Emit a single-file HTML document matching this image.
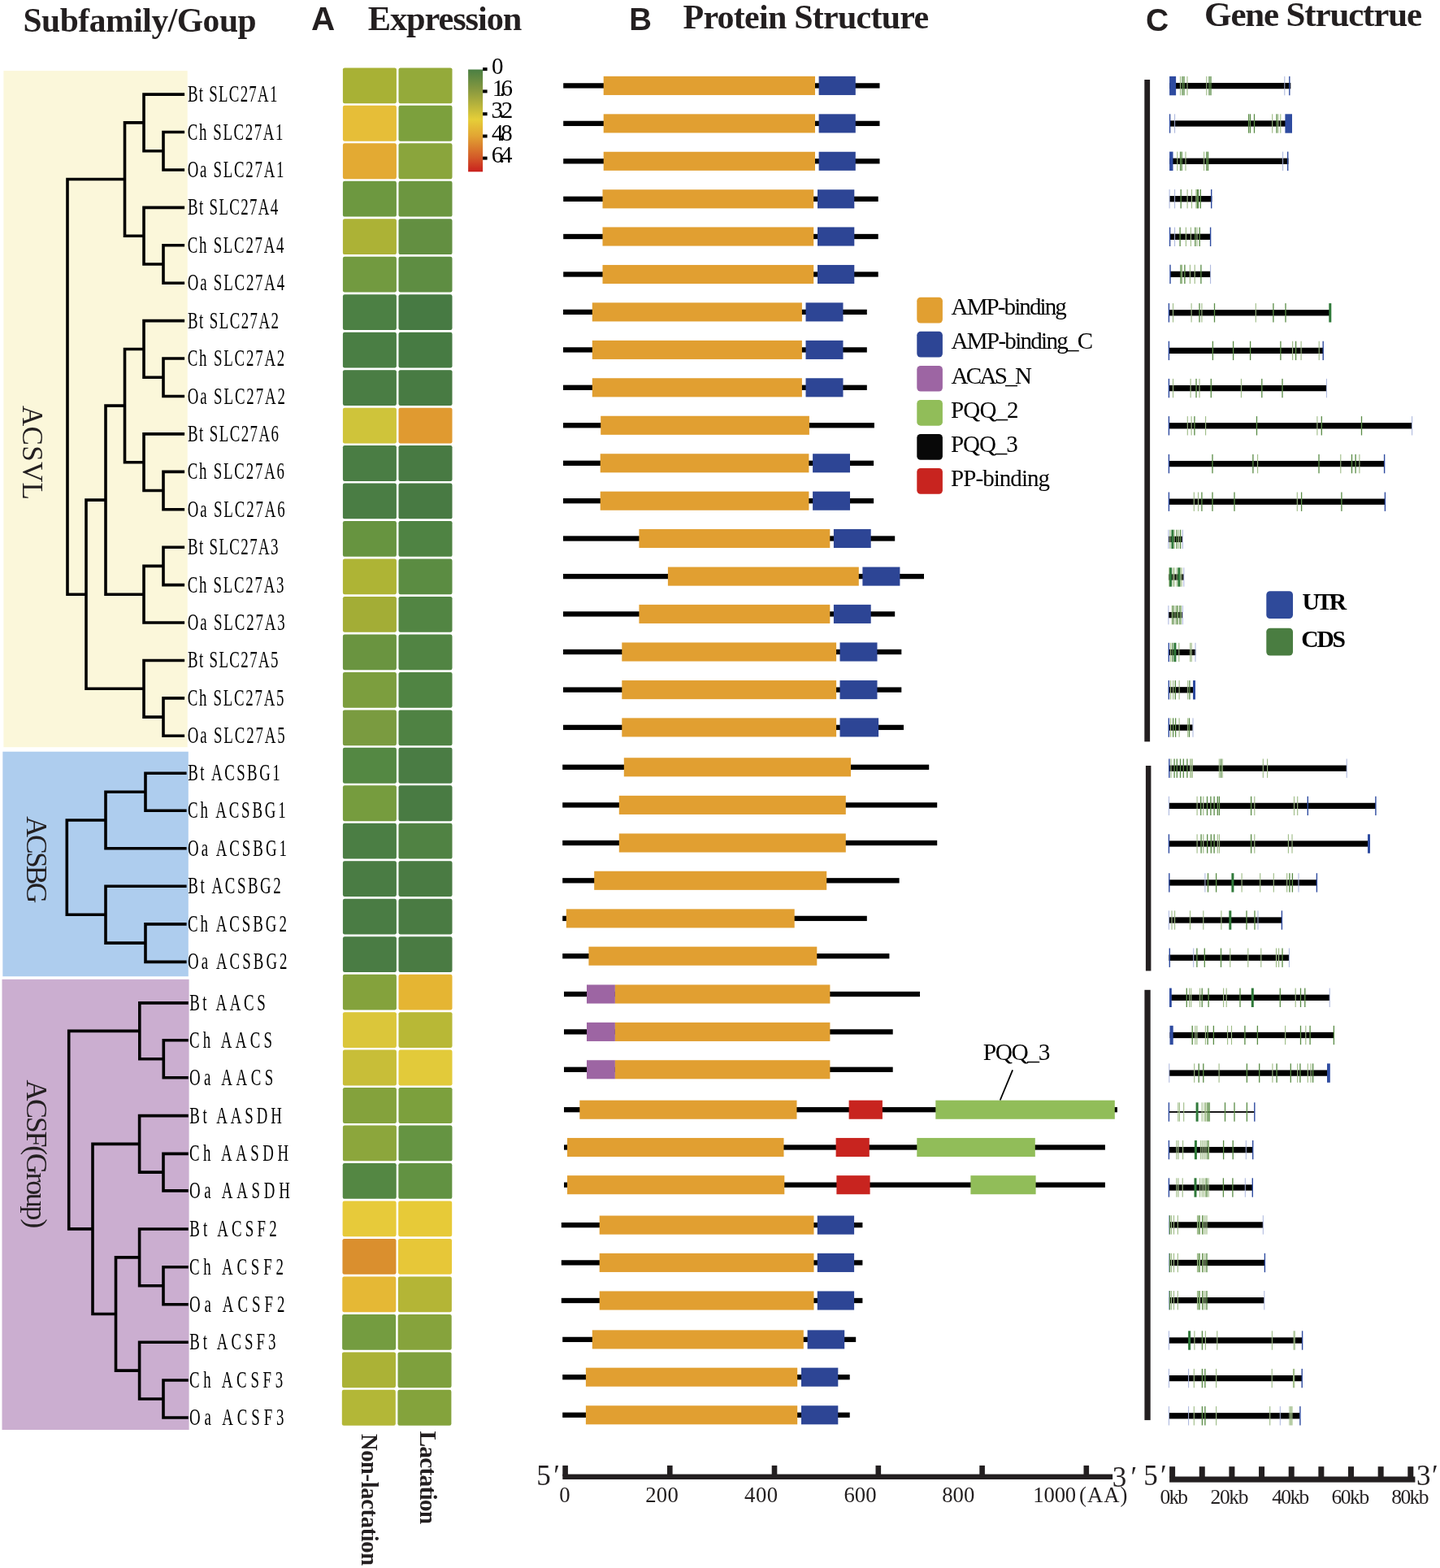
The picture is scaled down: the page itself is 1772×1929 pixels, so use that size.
<!DOCTYPE html>
<html><head><meta charset="utf-8"><title>Figure</title>
<style>html,body{margin:0;padding:0;background:#fff;overflow:hidden;} svg{display:block;}</style>
</head><body>
<svg width="1772" height="1929" viewBox="0 0 1772 1929">
<rect x="0" y="0" width="1772" height="1929" fill="#ffffff"/>
<text x="28.39" y="38.50" font-family='"Liberation Serif", "Times New Roman", serif' font-size="41.5" font-weight="bold" fill="#231F20" textLength="287.29" lengthAdjust="spacing">Subfamily/Goup</text>
<text x="382.89" y="37.30" font-family='"Liberation Sans", Arial, sans-serif' font-size="40.4" font-weight="bold" fill="#231F20" textLength="29.07" lengthAdjust="spacing">A</text>
<text x="452.78" y="36.80" font-family='"Liberation Serif", "Times New Roman", serif' font-size="42.4" font-weight="bold" fill="#231F20" textLength="189.57" lengthAdjust="spacing">Expression</text>
<text x="774.33" y="36.60" font-family='"Liberation Sans", Arial, sans-serif' font-size="38.4" font-weight="bold" fill="#231F20" textLength="27.61" lengthAdjust="spacing">B</text>
<text x="840.58" y="35.40" font-family='"Liberation Serif", "Times New Roman", serif' font-size="42.0" font-weight="bold" fill="#231F20" textLength="302.50" lengthAdjust="spacing">Protein Structure</text>
<text x="1410.00" y="38.40" font-family='"Liberation Sans", Arial, sans-serif' font-size="39.0" font-weight="bold" fill="#231F20" textLength="27.37" lengthAdjust="spacing">C</text>
<text x="1482.10" y="31.90" font-family='"Liberation Serif", "Times New Roman", serif' font-size="43.0" font-weight="bold" fill="#231F20" textLength="267.91" lengthAdjust="spacing">Gene Structrue</text>
<rect x="4.40" y="87.10" width="226.30" height="832.10" fill="#FBF7DA"/>
<rect x="3.30" y="924.70" width="228.50" height="276.50" fill="#AECDEE"/>
<rect x="2.50" y="1204.80" width="230.10" height="554.20" fill="#CBAED0"/>
<text transform="translate(27.50,499.06) rotate(90)" font-family='"Liberation Serif", "Times New Roman", serif' font-size="35.0" fill="#231F20" textLength="115.74" lengthAdjust="spacing">ACSVL</text>
<text transform="translate(33.10,1004.15) rotate(90)" font-family='"Liberation Serif", "Times New Roman", serif' font-size="35.5" fill="#231F20" textLength="107.26" lengthAdjust="spacing">ACSBG</text>
<text transform="translate(33.40,1328.45) rotate(90)" font-family='"Liberation Serif", "Times New Roman", serif' font-size="36.0" fill="#231F20" textLength="182.73" lengthAdjust="spacing">ACSF(Group)</text>
<path d="M201.00 162.52L225.30 162.52 M201.00 208.95L225.30 208.95 M201.00 162.52L201.00 208.95 M177.00 116.10L225.30 116.10 M177.00 185.74L201.00 185.74 M177.00 116.10L177.00 185.74 M201.00 301.80L225.30 301.80 M201.00 348.23L225.30 348.23 M201.00 301.80L201.00 348.23 M177.00 255.37L225.30 255.37 M177.00 325.01L201.00 325.01 M177.00 255.37L177.00 325.01 M153.50 150.92L177.00 150.92 M153.50 290.19L177.00 290.19 M153.50 150.92L153.50 290.19 M201.00 441.07L225.30 441.07 M201.00 487.50L225.30 487.50 M201.00 441.07L201.00 487.50 M177.00 394.65L225.30 394.65 M177.00 464.29L201.00 464.29 M177.00 394.65L177.00 464.29 M201.00 580.35L225.30 580.35 M201.00 626.77L225.30 626.77 M201.00 580.35L201.00 626.77 M177.00 533.92L225.30 533.92 M177.00 603.56L201.00 603.56 M177.00 533.92L177.00 603.56 M153.50 429.47L177.00 429.47 M153.50 568.74L177.00 568.74 M153.50 429.47L153.50 568.74 M201.00 673.20L225.30 673.20 M201.00 719.62L225.30 719.62 M201.00 673.20L201.00 719.62 M177.00 696.41L201.00 696.41 M177.00 766.05L225.30 766.05 M177.00 696.41L177.00 766.05 M130.00 499.11L153.50 499.11 M130.00 731.23L177.00 731.23 M130.00 499.11L130.00 731.23 M201.00 858.90L225.30 858.90 M201.00 905.32L225.30 905.32 M201.00 858.90L201.00 905.32 M177.00 812.48L225.30 812.48 M177.00 882.11L201.00 882.11 M177.00 812.48L177.00 882.11 M106.00 615.17L130.00 615.17 M106.00 847.29L177.00 847.29 M106.00 615.17L106.00 847.29 M83.00 220.56L153.50 220.56 M83.00 731.23L106.00 731.23 M83.00 220.56L83.00 731.23 M179.00 951.30L227.80 951.30 M179.00 997.30L227.80 997.30 M179.00 951.30L179.00 997.30 M130.00 974.30L179.00 974.30 M130.00 1043.80L227.80 1043.80 M130.00 974.30L130.00 1043.80 M179.00 1136.90L227.80 1136.90 M179.00 1183.40L227.80 1183.40 M179.00 1136.90L179.00 1183.40 M130.00 1090.30L227.80 1090.30 M130.00 1160.15L179.00 1160.15 M130.00 1090.30L130.00 1160.15 M82.30 1009.05L130.00 1009.05 M82.30 1125.22L130.00 1125.22 M82.30 1009.05L82.30 1125.22 M201.30 1279.70L230.00 1279.70 M201.30 1325.80L230.00 1325.80 M201.30 1279.70L201.30 1325.80 M171.80 1233.90L230.00 1233.90 M171.80 1302.75L201.30 1302.75 M171.80 1233.90L171.80 1302.75 M201.00 1419.40L230.00 1419.40 M201.00 1464.90L230.00 1464.90 M201.00 1419.40L201.00 1464.90 M171.60 1372.60L230.00 1372.60 M171.60 1442.15L201.00 1442.15 M171.60 1372.60L171.60 1442.15 M201.00 1558.70L230.00 1558.70 M201.00 1604.70L230.00 1604.70 M201.00 1558.70L201.00 1604.70 M171.60 1512.00L230.00 1512.00 M171.60 1581.70L201.00 1581.70 M171.60 1512.00L171.60 1581.70 M201.00 1698.00L230.00 1698.00 M201.00 1744.00L230.00 1744.00 M201.00 1698.00L201.00 1744.00 M171.60 1651.20L230.00 1651.20 M171.60 1721.00L201.00 1721.00 M171.60 1651.20L171.60 1721.00 M142.50 1546.85L171.60 1546.85 M142.50 1686.10L171.60 1686.10 M142.50 1546.85L142.50 1686.10 M114.00 1407.38L171.60 1407.38 M114.00 1616.47L142.50 1616.47 M114.00 1407.38L114.00 1616.47 M84.70 1268.33L171.80 1268.33 M84.70 1511.92L114.00 1511.92 M84.70 1268.33L84.70 1511.92" stroke="#000" stroke-width="3.6" stroke-linecap="square" fill="none"/>
<text transform="translate(230.96,125.10) scale(0.65,1)" font-family='"Liberation Serif", "Times New Roman", serif' font-size="29.0" fill="#000" textLength="169.81" lengthAdjust="spacing">Bt SLC27A1</text>
<text transform="translate(230.73,171.52) scale(0.65,1)" font-family='"Liberation Serif", "Times New Roman", serif' font-size="29.0" fill="#000" textLength="181.24" lengthAdjust="spacing">Ch SLC27A1</text>
<text transform="translate(230.73,217.95) scale(0.65,1)" font-family='"Liberation Serif", "Times New Roman", serif' font-size="29.0" fill="#000" textLength="182.62" lengthAdjust="spacing">Oa SLC27A1</text>
<text transform="translate(230.96,264.38) scale(0.65,1)" font-family='"Liberation Serif", "Times New Roman", serif' font-size="29.0" fill="#000" textLength="171.13" lengthAdjust="spacing">Bt SLC27A4</text>
<text transform="translate(230.73,310.80) scale(0.65,1)" font-family='"Liberation Serif", "Times New Roman", serif' font-size="29.0" fill="#000" textLength="182.72" lengthAdjust="spacing">Ch SLC27A4</text>
<text transform="translate(230.73,357.23) scale(0.65,1)" font-family='"Liberation Serif", "Times New Roman", serif' font-size="29.0" fill="#000" textLength="183.80" lengthAdjust="spacing">Oa SLC27A4</text>
<text transform="translate(230.96,403.65) scale(0.65,1)" font-family='"Liberation Serif", "Times New Roman", serif' font-size="29.0" fill="#000" textLength="172.28" lengthAdjust="spacing">Bt SLC27A2</text>
<text transform="translate(230.73,450.07) scale(0.65,1)" font-family='"Liberation Serif", "Times New Roman", serif' font-size="29.0" fill="#000" textLength="183.87" lengthAdjust="spacing">Ch SLC27A2</text>
<text transform="translate(230.73,496.50) scale(0.65,1)" font-family='"Liberation Serif", "Times New Roman", serif' font-size="29.0" fill="#000" textLength="184.94" lengthAdjust="spacing">Oa SLC27A2</text>
<text transform="translate(230.96,542.92) scale(0.65,1)" font-family='"Liberation Serif", "Times New Roman", serif' font-size="29.0" fill="#000" textLength="172.16" lengthAdjust="spacing">Bt SLC27A6</text>
<text transform="translate(230.73,589.35) scale(0.65,1)" font-family='"Liberation Serif", "Times New Roman", serif' font-size="29.0" fill="#000" textLength="183.44" lengthAdjust="spacing">Ch SLC27A6</text>
<text transform="translate(230.73,635.77) scale(0.65,1)" font-family='"Liberation Serif", "Times New Roman", serif' font-size="29.0" fill="#000" textLength="184.51" lengthAdjust="spacing">Oa SLC27A6</text>
<text transform="translate(230.96,682.20) scale(0.65,1)" font-family='"Liberation Serif", "Times New Roman", serif' font-size="29.0" fill="#000" textLength="171.35" lengthAdjust="spacing">Bt SLC27A3</text>
<text transform="translate(230.73,728.62) scale(0.65,1)" font-family='"Liberation Serif", "Times New Roman", serif' font-size="29.0" fill="#000" textLength="182.63" lengthAdjust="spacing">Ch SLC27A3</text>
<text transform="translate(230.73,775.05) scale(0.65,1)" font-family='"Liberation Serif", "Times New Roman", serif' font-size="29.0" fill="#000" textLength="184.48" lengthAdjust="spacing">Oa SLC27A3</text>
<text transform="translate(230.96,821.48) scale(0.65,1)" font-family='"Liberation Serif", "Times New Roman", serif' font-size="29.0" fill="#000" textLength="171.35" lengthAdjust="spacing">Bt SLC27A5</text>
<text transform="translate(230.73,867.90) scale(0.65,1)" font-family='"Liberation Serif", "Times New Roman", serif' font-size="29.0" fill="#000" textLength="182.63" lengthAdjust="spacing">Ch SLC27A5</text>
<text transform="translate(230.73,914.32) scale(0.65,1)" font-family='"Liberation Serif", "Times New Roman", serif' font-size="29.0" fill="#000" textLength="184.48" lengthAdjust="spacing">Oa SLC27A5</text>
<text transform="translate(231.26,960.30) scale(0.65,1)" font-family='"Liberation Serif", "Times New Roman", serif' font-size="29.0" fill="#000" textLength="174.42" lengthAdjust="spacing">Bt ACSBG1</text>
<text transform="translate(231.03,1006.30) scale(0.65,1)" font-family='"Liberation Serif", "Times New Roman", serif' font-size="29.0" fill="#000" textLength="185.70" lengthAdjust="spacing">Ch ACSBG1</text>
<text transform="translate(231.03,1052.80) scale(0.65,1)" font-family='"Liberation Serif", "Times New Roman", serif' font-size="29.0" fill="#000" textLength="187.55" lengthAdjust="spacing">Oa ACSBG1</text>
<text transform="translate(231.26,1099.30) scale(0.65,1)" font-family='"Liberation Serif", "Times New Roman", serif' font-size="29.0" fill="#000" textLength="176.13" lengthAdjust="spacing">Bt ACSBG2</text>
<text transform="translate(231.03,1145.90) scale(0.65,1)" font-family='"Liberation Serif", "Times New Roman", serif' font-size="29.0" fill="#000" textLength="187.40" lengthAdjust="spacing">Ch ACSBG2</text>
<text transform="translate(231.03,1192.40) scale(0.65,1)" font-family='"Liberation Serif", "Times New Roman", serif' font-size="29.0" fill="#000" textLength="188.48" lengthAdjust="spacing">Oa ACSBG2</text>
<text transform="translate(233.16,1242.90) scale(0.65,1)" font-family='"Liberation Serif", "Times New Roman", serif' font-size="29.0" fill="#000" textLength="144.02" lengthAdjust="spacing">Bt AACS</text>
<text transform="translate(232.93,1288.70) scale(0.65,1)" font-family='"Liberation Serif", "Times New Roman", serif' font-size="29.0" fill="#000" textLength="157.14" lengthAdjust="spacing">Ch AACS</text>
<text transform="translate(232.93,1334.80) scale(0.65,1)" font-family='"Liberation Serif", "Times New Roman", serif' font-size="29.0" fill="#000" textLength="158.99" lengthAdjust="spacing">Oa AACS</text>
<text transform="translate(233.16,1381.60) scale(0.65,1)" font-family='"Liberation Serif", "Times New Roman", serif' font-size="29.0" fill="#000" textLength="174.92" lengthAdjust="spacing">Bt AASDH</text>
<text transform="translate(232.93,1428.40) scale(0.65,1)" font-family='"Liberation Serif", "Times New Roman", serif' font-size="29.0" fill="#000" textLength="187.89" lengthAdjust="spacing">Ch AASDH</text>
<text transform="translate(232.93,1473.90) scale(0.65,1)" font-family='"Liberation Serif", "Times New Roman", serif' font-size="29.0" fill="#000" textLength="190.50" lengthAdjust="spacing">Oa AASDH</text>
<text transform="translate(233.16,1521.00) scale(0.65,1)" font-family='"Liberation Serif", "Times New Roman", serif' font-size="29.0" fill="#000" textLength="165.36" lengthAdjust="spacing">Bt ACSF2</text>
<text transform="translate(232.93,1567.70) scale(0.65,1)" font-family='"Liberation Serif", "Times New Roman", serif' font-size="29.0" fill="#000" textLength="178.33" lengthAdjust="spacing">Ch ACSF2</text>
<text transform="translate(232.93,1613.70) scale(0.65,1)" font-family='"Liberation Serif", "Times New Roman", serif' font-size="29.0" fill="#000" textLength="180.94" lengthAdjust="spacing">Oa ACSF2</text>
<text transform="translate(233.16,1660.20) scale(0.65,1)" font-family='"Liberation Serif", "Times New Roman", serif' font-size="29.0" fill="#000" textLength="163.66" lengthAdjust="spacing">Bt ACSF3</text>
<text transform="translate(232.93,1707.00) scale(0.65,1)" font-family='"Liberation Serif", "Times New Roman", serif' font-size="29.0" fill="#000" textLength="177.40" lengthAdjust="spacing">Ch ACSF3</text>
<text transform="translate(232.93,1753.00) scale(0.65,1)" font-family='"Liberation Serif", "Times New Roman", serif' font-size="29.0" fill="#000" textLength="179.40" lengthAdjust="spacing">Oa ACSF3</text>
<rect x="421.90" y="83.40" width="66.00" height="43.80" fill="#A8B135" rx="2.2"/>
<rect x="490.50" y="83.40" width="66.00" height="43.80" fill="#94AA3A" rx="2.2"/>
<rect x="421.90" y="129.87" width="66.00" height="43.80" fill="#E6BE38" rx="2.2"/>
<rect x="490.50" y="129.87" width="66.00" height="43.80" fill="#7CA03D" rx="2.2"/>
<rect x="421.90" y="176.34" width="66.00" height="43.80" fill="#E3AA33" rx="2.2"/>
<rect x="490.50" y="176.34" width="66.00" height="43.80" fill="#8AA53C" rx="2.2"/>
<rect x="421.90" y="222.81" width="66.00" height="43.80" fill="#6D9840" rx="2.2"/>
<rect x="490.50" y="222.81" width="66.00" height="43.80" fill="#6C9640" rx="2.2"/>
<rect x="421.90" y="269.28" width="66.00" height="43.80" fill="#ACB236" rx="2.2"/>
<rect x="490.50" y="269.28" width="66.00" height="43.80" fill="#638F41" rx="2.2"/>
<rect x="421.90" y="315.75" width="66.00" height="43.80" fill="#729A40" rx="2.2"/>
<rect x="490.50" y="315.75" width="66.00" height="43.80" fill="#5E8D42" rx="2.2"/>
<rect x="421.90" y="362.22" width="66.00" height="43.80" fill="#4C8044" rx="2.2"/>
<rect x="490.50" y="362.22" width="66.00" height="43.80" fill="#477A43" rx="2.2"/>
<rect x="421.90" y="408.69" width="66.00" height="43.80" fill="#4A7E44" rx="2.2"/>
<rect x="490.50" y="408.69" width="66.00" height="43.80" fill="#477B43" rx="2.2"/>
<rect x="421.90" y="455.16" width="66.00" height="43.80" fill="#4A7D44" rx="2.2"/>
<rect x="490.50" y="455.16" width="66.00" height="43.80" fill="#487B43" rx="2.2"/>
<rect x="421.90" y="501.63" width="66.00" height="43.80" fill="#CFC43A" rx="2.2"/>
<rect x="490.50" y="501.63" width="66.00" height="43.80" fill="#E09A30" rx="2.2"/>
<rect x="421.90" y="548.10" width="66.00" height="43.80" fill="#4A7D44" rx="2.2"/>
<rect x="490.50" y="548.10" width="66.00" height="43.80" fill="#487A43" rx="2.2"/>
<rect x="421.90" y="594.57" width="66.00" height="43.80" fill="#4A7D44" rx="2.2"/>
<rect x="490.50" y="594.57" width="66.00" height="43.80" fill="#487A43" rx="2.2"/>
<rect x="421.90" y="641.04" width="66.00" height="43.80" fill="#679440" rx="2.2"/>
<rect x="490.50" y="641.04" width="66.00" height="43.80" fill="#4F8343" rx="2.2"/>
<rect x="421.90" y="687.51" width="66.00" height="43.80" fill="#AEB435" rx="2.2"/>
<rect x="490.50" y="687.51" width="66.00" height="43.80" fill="#5B8C42" rx="2.2"/>
<rect x="421.90" y="733.98" width="66.00" height="43.80" fill="#A3AD36" rx="2.2"/>
<rect x="490.50" y="733.98" width="66.00" height="43.80" fill="#528543" rx="2.2"/>
<rect x="421.90" y="780.45" width="66.00" height="43.80" fill="#6A9440" rx="2.2"/>
<rect x="490.50" y="780.45" width="66.00" height="43.80" fill="#518443" rx="2.2"/>
<rect x="421.90" y="826.92" width="66.00" height="43.80" fill="#7C9E3E" rx="2.2"/>
<rect x="490.50" y="826.92" width="66.00" height="43.80" fill="#508443" rx="2.2"/>
<rect x="421.90" y="873.39" width="66.00" height="43.80" fill="#7A9B40" rx="2.2"/>
<rect x="490.50" y="873.39" width="66.00" height="43.80" fill="#4F8243" rx="2.2"/>
<rect x="421.90" y="919.86" width="66.00" height="43.80" fill="#548843" rx="2.2"/>
<rect x="490.50" y="919.86" width="66.00" height="43.80" fill="#4A7C44" rx="2.2"/>
<rect x="421.90" y="966.33" width="66.00" height="43.80" fill="#769C3E" rx="2.2"/>
<rect x="490.50" y="966.33" width="66.00" height="43.80" fill="#497B43" rx="2.2"/>
<rect x="421.90" y="1012.80" width="66.00" height="43.80" fill="#4B7E44" rx="2.2"/>
<rect x="490.50" y="1012.80" width="66.00" height="43.80" fill="#508243" rx="2.2"/>
<rect x="421.90" y="1059.27" width="66.00" height="43.80" fill="#4A7C44" rx="2.2"/>
<rect x="490.50" y="1059.27" width="66.00" height="43.80" fill="#4A7B43" rx="2.2"/>
<rect x="421.90" y="1105.74" width="66.00" height="43.80" fill="#4A7C44" rx="2.2"/>
<rect x="490.50" y="1105.74" width="66.00" height="43.80" fill="#4A7B43" rx="2.2"/>
<rect x="421.90" y="1152.21" width="66.00" height="43.80" fill="#4A7C44" rx="2.2"/>
<rect x="490.50" y="1152.21" width="66.00" height="43.80" fill="#4A7B43" rx="2.2"/>
<rect x="421.90" y="1198.68" width="66.00" height="43.80" fill="#84A23C" rx="2.2"/>
<rect x="490.50" y="1198.68" width="66.00" height="43.80" fill="#E5B533" rx="2.2"/>
<rect x="421.90" y="1245.15" width="66.00" height="43.80" fill="#DBC63A" rx="2.2"/>
<rect x="490.50" y="1245.15" width="66.00" height="43.80" fill="#B8B836" rx="2.2"/>
<rect x="421.90" y="1291.62" width="66.00" height="43.80" fill="#C8BE38" rx="2.2"/>
<rect x="490.50" y="1291.62" width="66.00" height="43.80" fill="#E2CA3A" rx="2.2"/>
<rect x="421.90" y="1338.09" width="66.00" height="43.80" fill="#84A23C" rx="2.2"/>
<rect x="490.50" y="1338.09" width="66.00" height="43.80" fill="#7CA03D" rx="2.2"/>
<rect x="421.90" y="1384.56" width="66.00" height="43.80" fill="#8CA63C" rx="2.2"/>
<rect x="490.50" y="1384.56" width="66.00" height="43.80" fill="#659442" rx="2.2"/>
<rect x="421.74" y="1431.03" width="66.00" height="43.80" fill="#548743" rx="2.2"/>
<rect x="490.34" y="1431.03" width="66.00" height="43.80" fill="#629242" rx="2.2"/>
<rect x="421.59" y="1477.50" width="66.00" height="43.80" fill="#E7CA3A" rx="2.2"/>
<rect x="490.19" y="1477.50" width="66.00" height="43.80" fill="#E7CA38" rx="2.2"/>
<rect x="421.43" y="1523.97" width="66.00" height="43.80" fill="#DA8F2E" rx="2.2"/>
<rect x="490.03" y="1523.97" width="66.00" height="43.80" fill="#E7C738" rx="2.2"/>
<rect x="421.27" y="1570.44" width="66.00" height="43.80" fill="#E5B835" rx="2.2"/>
<rect x="489.87" y="1570.44" width="66.00" height="43.80" fill="#B4B536" rx="2.2"/>
<rect x="421.11" y="1616.91" width="66.00" height="43.80" fill="#749C40" rx="2.2"/>
<rect x="489.71" y="1616.91" width="66.00" height="43.80" fill="#86A33C" rx="2.2"/>
<rect x="420.96" y="1663.38" width="66.00" height="43.80" fill="#ABB236" rx="2.2"/>
<rect x="489.56" y="1663.38" width="66.00" height="43.80" fill="#7EA03D" rx="2.2"/>
<rect x="420.80" y="1709.85" width="66.00" height="43.80" fill="#B3B737" rx="2.2"/>
<rect x="489.40" y="1709.85" width="66.00" height="43.80" fill="#84A33C" rx="2.2"/>
<defs><linearGradient id="cb" x1="0" y1="0" x2="0" y2="1"><stop offset="0" stop-color="#4A7F43"/><stop offset="0.214" stop-color="#8C9B3F"/><stop offset="0.489" stop-color="#E6CE38"/><stop offset="0.649" stop-color="#E2A533"/><stop offset="0.86" stop-color="#D35A28"/><stop offset="1" stop-color="#C9201E"/></linearGradient></defs>
<rect x="576.10" y="85.50" width="18.00" height="125.80" fill="url(#cb)"/>
<rect x="594.10" y="83.10" width="5.50" height="4.00" fill="#000"/>
<rect x="594.10" y="110.40" width="5.50" height="4.00" fill="#000"/>
<rect x="594.10" y="138.20" width="5.50" height="4.00" fill="#000"/>
<rect x="594.10" y="165.50" width="5.50" height="4.00" fill="#000"/>
<rect x="594.10" y="192.60" width="5.50" height="4.00" fill="#000"/>
<text x="604.90" y="90.70" font-family='"Liberation Serif", "Times New Roman", serif' font-size="29.0" fill="#000" textLength="14.21" lengthAdjust="spacing">0</text>
<text x="605.85" y="118.00" font-family='"Liberation Serif", "Times New Roman", serif' font-size="29.0" fill="#000" textLength="25.11" lengthAdjust="spacing">1.6</text>
<text x="604.61" y="145.40" font-family='"Liberation Serif", "Times New Roman", serif' font-size="29.0" fill="#000" textLength="26.69" lengthAdjust="spacing">3.2</text>
<text x="605.03" y="173.10" font-family='"Liberation Serif", "Times New Roman", serif' font-size="29.0" fill="#000" textLength="25.77" lengthAdjust="spacing">4.8</text>
<text x="604.75" y="200.00" font-family='"Liberation Serif", "Times New Roman", serif' font-size="29.0" fill="#000" textLength="25.80" lengthAdjust="spacing">6.4</text>
<text transform="translate(444.50,1763.96) rotate(90)" font-family='"Liberation Serif", "Times New Roman", serif' font-size="28.5" font-weight="bold" fill="#231F20" textLength="162.17" lengthAdjust="spacing">Non-lactation</text>
<text transform="translate(517.00,1760.50) rotate(90)" font-family='"Liberation Serif", "Times New Roman", serif' font-size="29.5" font-weight="bold" fill="#231F20" textLength="114.65" lengthAdjust="spacing">Lactation</text>
<rect x="693.20" y="102.25" width="389.30" height="6.30" fill="#000"/>
<rect x="742.70" y="93.85" width="260.30" height="23.10" fill="#E19F31"/>
<rect x="1007.60" y="93.85" width="45.20" height="23.10" fill="#2D4595"/>
<rect x="693.20" y="148.75" width="389.30" height="6.30" fill="#000"/>
<rect x="742.70" y="140.35" width="260.30" height="23.10" fill="#E19F31"/>
<rect x="1007.60" y="140.35" width="45.20" height="23.10" fill="#2D4595"/>
<rect x="693.20" y="195.15" width="389.30" height="6.30" fill="#000"/>
<rect x="742.70" y="186.75" width="260.30" height="23.10" fill="#E19F31"/>
<rect x="1007.60" y="186.75" width="45.20" height="23.10" fill="#2D4595"/>
<rect x="693.20" y="241.65" width="387.50" height="6.30" fill="#000"/>
<rect x="741.50" y="233.25" width="259.70" height="23.10" fill="#E19F31"/>
<rect x="1006.00" y="233.25" width="45.30" height="23.10" fill="#2D4595"/>
<rect x="693.20" y="287.85" width="387.50" height="6.30" fill="#000"/>
<rect x="741.50" y="279.45" width="259.70" height="23.10" fill="#E19F31"/>
<rect x="1006.00" y="279.45" width="45.30" height="23.10" fill="#2D4595"/>
<rect x="693.20" y="334.35" width="387.50" height="6.30" fill="#000"/>
<rect x="741.50" y="325.95" width="259.70" height="23.10" fill="#E19F31"/>
<rect x="1006.00" y="325.95" width="45.30" height="23.10" fill="#2D4595"/>
<rect x="693.00" y="380.75" width="373.80" height="6.30" fill="#000"/>
<rect x="728.80" y="372.35" width="258.10" height="23.10" fill="#E19F31"/>
<rect x="991.50" y="372.35" width="46.00" height="23.10" fill="#2D4595"/>
<rect x="693.00" y="427.25" width="373.80" height="6.30" fill="#000"/>
<rect x="728.80" y="418.85" width="258.10" height="23.10" fill="#E19F31"/>
<rect x="991.50" y="418.85" width="46.00" height="23.10" fill="#2D4595"/>
<rect x="693.00" y="473.65" width="373.80" height="6.30" fill="#000"/>
<rect x="728.80" y="465.25" width="258.10" height="23.10" fill="#E19F31"/>
<rect x="991.50" y="465.25" width="46.00" height="23.10" fill="#2D4595"/>
<rect x="693.00" y="520.15" width="382.90" height="6.30" fill="#000"/>
<rect x="739.20" y="511.75" width="256.70" height="23.10" fill="#E19F31"/>
<rect x="693.00" y="566.65" width="382.10" height="6.30" fill="#000"/>
<rect x="738.70" y="558.25" width="256.70" height="23.10" fill="#E19F31"/>
<rect x="1000.10" y="558.25" width="45.90" height="23.10" fill="#2D4595"/>
<rect x="693.00" y="613.05" width="382.10" height="6.30" fill="#000"/>
<rect x="738.70" y="604.65" width="256.70" height="23.10" fill="#E19F31"/>
<rect x="1000.10" y="604.65" width="45.90" height="23.10" fill="#2D4595"/>
<rect x="693.00" y="659.35" width="408.20" height="6.30" fill="#000"/>
<rect x="786.40" y="650.95" width="234.90" height="23.10" fill="#E19F31"/>
<rect x="1025.90" y="650.95" width="45.80" height="23.10" fill="#2D4595"/>
<rect x="693.00" y="705.95" width="444.00" height="6.30" fill="#000"/>
<rect x="821.90" y="697.55" width="234.90" height="23.10" fill="#E19F31"/>
<rect x="1061.40" y="697.55" width="46.00" height="23.10" fill="#2D4595"/>
<rect x="693.00" y="752.25" width="408.20" height="6.30" fill="#000"/>
<rect x="786.40" y="743.85" width="234.90" height="23.10" fill="#E19F31"/>
<rect x="1025.90" y="743.85" width="45.80" height="23.10" fill="#2D4595"/>
<rect x="693.00" y="798.85" width="416.30" height="6.30" fill="#000"/>
<rect x="765.30" y="790.45" width="263.80" height="23.10" fill="#E19F31"/>
<rect x="1033.50" y="790.45" width="46.00" height="23.10" fill="#2D4595"/>
<rect x="693.00" y="845.45" width="416.30" height="6.30" fill="#000"/>
<rect x="765.30" y="837.05" width="263.80" height="23.10" fill="#E19F31"/>
<rect x="1033.50" y="837.05" width="46.00" height="23.10" fill="#2D4595"/>
<rect x="693.00" y="891.75" width="419.00" height="6.30" fill="#000"/>
<rect x="765.30" y="883.35" width="263.80" height="23.10" fill="#E19F31"/>
<rect x="1033.50" y="883.35" width="47.60" height="23.10" fill="#2D4595"/>
<rect x="692.20" y="940.65" width="451.00" height="6.30" fill="#000"/>
<rect x="767.80" y="932.25" width="279.20" height="23.10" fill="#E19F31"/>
<rect x="692.20" y="987.25" width="461.00" height="6.30" fill="#000"/>
<rect x="761.80" y="978.85" width="279.00" height="23.10" fill="#E19F31"/>
<rect x="692.20" y="1033.85" width="461.00" height="6.30" fill="#000"/>
<rect x="761.80" y="1025.45" width="279.00" height="23.10" fill="#E19F31"/>
<rect x="692.20" y="1080.15" width="414.40" height="6.30" fill="#000"/>
<rect x="731.20" y="1071.75" width="286.00" height="23.10" fill="#E19F31"/>
<rect x="692.20" y="1126.75" width="374.60" height="6.30" fill="#000"/>
<rect x="696.80" y="1118.35" width="280.90" height="23.10" fill="#E19F31"/>
<rect x="692.20" y="1173.05" width="402.20" height="6.30" fill="#000"/>
<rect x="724.40" y="1164.65" width="280.90" height="23.10" fill="#E19F31"/>
<rect x="694.00" y="1219.85" width="438.00" height="6.30" fill="#000"/>
<rect x="722.00" y="1211.45" width="34.90" height="23.10" fill="#9D65A3"/>
<rect x="756.90" y="1211.45" width="264.50" height="23.10" fill="#E19F31"/>
<rect x="694.00" y="1266.25" width="404.70" height="6.30" fill="#000"/>
<rect x="722.00" y="1257.85" width="34.90" height="23.10" fill="#9D65A3"/>
<rect x="756.90" y="1257.85" width="264.50" height="23.10" fill="#E19F31"/>
<rect x="694.00" y="1312.65" width="404.70" height="6.30" fill="#000"/>
<rect x="722.00" y="1304.25" width="34.90" height="23.10" fill="#9D65A3"/>
<rect x="756.90" y="1304.25" width="264.50" height="23.10" fill="#E19F31"/>
<rect x="694.00" y="1362.05" width="680.90" height="6.30" fill="#000"/>
<rect x="713.30" y="1353.65" width="267.20" height="23.10" fill="#E19F31"/>
<rect x="1044.60" y="1353.65" width="41.30" height="23.10" fill="#C8241F"/>
<rect x="1151.30" y="1353.65" width="220.50" height="23.10" fill="#91BD59"/>
<rect x="694.00" y="1408.35" width="665.90" height="6.30" fill="#000"/>
<rect x="698.00" y="1399.95" width="266.50" height="23.10" fill="#E19F31"/>
<rect x="1028.60" y="1399.95" width="41.20" height="23.10" fill="#C8241F"/>
<rect x="1128.30" y="1399.95" width="145.50" height="23.10" fill="#91BD59"/>
<rect x="694.00" y="1454.55" width="665.90" height="6.30" fill="#000"/>
<rect x="698.00" y="1446.15" width="267.30" height="23.10" fill="#E19F31"/>
<rect x="1029.40" y="1446.15" width="41.20" height="23.10" fill="#C8241F"/>
<rect x="1194.40" y="1446.15" width="80.20" height="23.10" fill="#91BD59"/>
<rect x="690.80" y="1503.95" width="370.60" height="6.30" fill="#000"/>
<rect x="737.70" y="1495.55" width="263.80" height="23.10" fill="#E19F31"/>
<rect x="1005.80" y="1495.55" width="45.30" height="23.10" fill="#2D4595"/>
<rect x="690.80" y="1550.25" width="370.60" height="6.30" fill="#000"/>
<rect x="737.70" y="1541.85" width="263.80" height="23.10" fill="#E19F31"/>
<rect x="1005.80" y="1541.85" width="45.30" height="23.10" fill="#2D4595"/>
<rect x="690.80" y="1596.85" width="370.60" height="6.30" fill="#000"/>
<rect x="737.70" y="1588.45" width="263.80" height="23.10" fill="#E19F31"/>
<rect x="1005.80" y="1588.45" width="45.30" height="23.10" fill="#2D4595"/>
<rect x="692.20" y="1644.75" width="361.00" height="6.30" fill="#000"/>
<rect x="728.80" y="1636.35" width="260.00" height="23.10" fill="#E19F31"/>
<rect x="993.60" y="1636.35" width="45.60" height="23.10" fill="#2D4595"/>
<rect x="692.20" y="1691.05" width="353.50" height="6.30" fill="#000"/>
<rect x="720.90" y="1682.65" width="260.30" height="23.10" fill="#E19F31"/>
<rect x="986.00" y="1682.65" width="45.30" height="23.10" fill="#2D4595"/>
<rect x="692.20" y="1737.65" width="353.50" height="6.30" fill="#000"/>
<rect x="720.90" y="1729.25" width="260.30" height="23.10" fill="#E19F31"/>
<rect x="986.00" y="1729.25" width="45.30" height="23.10" fill="#2D4595"/>
<text x="1209.65" y="1304.30" font-family='"Liberation Serif", "Times New Roman", serif' font-size="29.4" fill="#000" textLength="82.70" lengthAdjust="spacing">PQQ_3</text>
<line x1="1246.1" y1="1316.3" x2="1230.7" y2="1353.5" stroke="#000" stroke-width="1.8"/>
<rect x="1128.30" y="365.80" width="31.60" height="31.70" fill="#E19F31" rx="4.5"/>
<text x="1170.62" y="387.40" font-family='"Liberation Serif", "Times New Roman", serif' font-size="29.0" fill="#000" textLength="142.14" lengthAdjust="spacing">AMP-binding</text>
<rect x="1128.30" y="407.85" width="31.60" height="31.70" fill="#2D4595" rx="4.5"/>
<text x="1170.62" y="429.45" font-family='"Liberation Serif", "Times New Roman", serif' font-size="29.0" fill="#000" textLength="174.58" lengthAdjust="spacing">AMP-binding_C</text>
<rect x="1128.30" y="449.90" width="31.60" height="31.70" fill="#9D65A3" rx="4.5"/>
<text x="1170.62" y="471.50" font-family='"Liberation Serif", "Times New Roman", serif' font-size="29.0" fill="#000" textLength="99.25" lengthAdjust="spacing">ACAS_N</text>
<rect x="1128.30" y="491.95" width="31.60" height="31.70" fill="#91BD59" rx="4.5"/>
<text x="1170.06" y="513.55" font-family='"Liberation Serif", "Times New Roman", serif' font-size="29.0" fill="#000" textLength="83.54" lengthAdjust="spacing">PQQ_2</text>
<rect x="1128.30" y="534.00" width="31.60" height="31.70" fill="#080808" rx="4.5"/>
<text x="1170.06" y="555.60" font-family='"Liberation Serif", "Times New Roman", serif' font-size="29.0" fill="#000" textLength="82.67" lengthAdjust="spacing">PQQ_3</text>
<rect x="1128.30" y="576.05" width="31.60" height="31.70" fill="#C8241F" rx="4.5"/>
<text x="1170.06" y="597.65" font-family='"Liberation Serif", "Times New Roman", serif' font-size="29.0" fill="#000" textLength="121.99" lengthAdjust="spacing">PP-binding</text>
<rect x="692.30" y="1813.60" width="676.80" height="6.40" fill="#231F20"/>
<rect x="692.30" y="1802.90" width="6.60" height="13.10" fill="#231F20"/>
<rect x="821.00" y="1802.90" width="6.60" height="13.10" fill="#231F20"/>
<rect x="949.70" y="1802.90" width="6.60" height="13.10" fill="#231F20"/>
<rect x="1077.50" y="1802.90" width="6.60" height="13.10" fill="#231F20"/>
<rect x="1205.30" y="1802.90" width="6.60" height="13.10" fill="#231F20"/>
<rect x="1333.50" y="1802.90" width="6.60" height="13.10" fill="#231F20"/>
<text x="688.28" y="1848.00" font-family='"Liberation Serif", "Times New Roman", serif' font-size="26.7" fill="#231F20" textLength="16.23" lengthAdjust="spacing">0</text>
<text x="794.13" y="1848.00" font-family='"Liberation Serif", "Times New Roman", serif' font-size="26.7" fill="#231F20" textLength="40.79" lengthAdjust="spacing">200</text>
<text x="916.08" y="1848.00" font-family='"Liberation Serif", "Times New Roman", serif' font-size="26.7" fill="#231F20" textLength="41.04" lengthAdjust="spacing">400</text>
<text x="1038.55" y="1848.00" font-family='"Liberation Serif", "Times New Roman", serif' font-size="26.7" fill="#231F20" textLength="39.96" lengthAdjust="spacing">600</text>
<text x="1159.18" y="1848.00" font-family='"Liberation Serif", "Times New Roman", serif' font-size="26.7" fill="#231F20" textLength="40.23" lengthAdjust="spacing">800</text>
<text x="1271.15" y="1848.00" font-family='"Liberation Serif", "Times New Roman", serif' font-size="26.7" fill="#231F20" textLength="53.06" lengthAdjust="spacing">1000</text>
<text x="1328.03" y="1848.00" font-family='"Liberation Serif", "Times New Roman", serif' font-size="26.7" fill="#231F20" textLength="59.45" lengthAdjust="spacing">(AA)</text>
<text x="660.27" y="1826.50" font-family='"Liberation Serif", "Times New Roman", serif' font-size="35.0" fill="#231F20" textLength="28.66" lengthAdjust="spacing">5′</text>
<text x="1368.73" y="1828.60" font-family='"Liberation Serif", "Times New Roman", serif' font-size="35.0" fill="#231F20" textLength="30.50" lengthAdjust="spacing">3′</text>
<rect x="1408.30" y="98.00" width="6.80" height="814.40" fill="#231F20"/>
<rect x="1409.90" y="942.00" width="6.50" height="252.40" fill="#231F20"/>
<rect x="1408.40" y="1217.80" width="7.30" height="529.30" fill="#231F20"/>
<rect x="1439.10" y="101.95" width="149.20" height="7.30" fill="#000"/>
<rect x="1439.10" y="93.90" width="8.00" height="23.40" fill="#2E4BA0"/>
<rect x="1451.95" y="93.90" width="1.10" height="23.40" fill="#9DBB85"/>
<rect x="1454.35" y="93.90" width="1.30" height="23.40" fill="#5A8C46"/>
<rect x="1456.35" y="93.90" width="1.30" height="23.40" fill="#5A8C46"/>
<rect x="1460.45" y="93.90" width="1.10" height="23.40" fill="#9DBB85"/>
<rect x="1484.25" y="93.90" width="1.10" height="23.40" fill="#9DBB85"/>
<rect x="1487.35" y="93.90" width="1.30" height="23.40" fill="#5A8C46"/>
<rect x="1489.35" y="93.90" width="1.30" height="23.40" fill="#5A8C46"/>
<rect x="1580.30" y="93.90" width="1.00" height="23.40" fill="#A8B4DC"/>
<rect x="1586.10" y="93.90" width="1.40" height="23.40" fill="#2E4BA0"/>
<rect x="1439.60" y="148.35" width="150.40" height="7.30" fill="#000"/>
<rect x="1438.90" y="140.30" width="1.40" height="23.40" fill="#2E4BA0"/>
<rect x="1445.10" y="140.30" width="1.00" height="23.40" fill="#A8B4DC"/>
<rect x="1535.95" y="140.30" width="1.30" height="23.40" fill="#5A8C46"/>
<rect x="1537.85" y="140.30" width="1.30" height="23.40" fill="#5A8C46"/>
<rect x="1542.85" y="140.30" width="1.30" height="23.40" fill="#5A8C46"/>
<rect x="1565.15" y="140.30" width="1.10" height="23.40" fill="#9DBB85"/>
<rect x="1570.35" y="140.30" width="1.30" height="23.40" fill="#5A8C46"/>
<rect x="1572.25" y="140.30" width="1.10" height="23.40" fill="#9DBB85"/>
<rect x="1575.25" y="140.30" width="1.10" height="23.40" fill="#9DBB85"/>
<rect x="1581.40" y="140.30" width="8.60" height="23.40" fill="#2E4BA0"/>
<rect x="1439.10" y="194.65" width="146.40" height="7.30" fill="#000"/>
<rect x="1439.10" y="186.60" width="4.40" height="23.40" fill="#2E4BA0"/>
<rect x="1448.25" y="186.60" width="1.10" height="23.40" fill="#9DBB85"/>
<rect x="1451.85" y="186.60" width="1.30" height="23.40" fill="#5A8C46"/>
<rect x="1453.55" y="186.60" width="1.30" height="23.40" fill="#5A8C46"/>
<rect x="1458.45" y="186.60" width="1.10" height="23.40" fill="#9DBB85"/>
<rect x="1481.05" y="186.60" width="1.10" height="23.40" fill="#9DBB85"/>
<rect x="1484.15" y="186.60" width="1.30" height="23.40" fill="#5A8C46"/>
<rect x="1485.85" y="186.60" width="1.30" height="23.40" fill="#5A8C46"/>
<rect x="1578.10" y="186.60" width="1.00" height="23.40" fill="#A8B4DC"/>
<rect x="1584.00" y="186.60" width="1.40" height="23.40" fill="#2E4BA0"/>
<rect x="1439.10" y="241.05" width="52.20" height="7.30" fill="#000"/>
<rect x="1438.60" y="233.00" width="1.00" height="23.40" fill="#A8B4DC"/>
<rect x="1445.10" y="233.00" width="1.00" height="23.40" fill="#A8B4DC"/>
<rect x="1452.55" y="233.00" width="1.30" height="23.40" fill="#5A8C46"/>
<rect x="1460.55" y="233.00" width="1.10" height="23.40" fill="#9DBB85"/>
<rect x="1465.95" y="233.00" width="1.10" height="23.40" fill="#9DBB85"/>
<rect x="1471.35" y="233.00" width="1.10" height="23.40" fill="#9DBB85"/>
<rect x="1472.65" y="233.00" width="1.30" height="23.40" fill="#5A8C46"/>
<rect x="1473.85" y="233.00" width="1.30" height="23.40" fill="#5A8C46"/>
<rect x="1476.65" y="233.00" width="1.30" height="23.40" fill="#5A8C46"/>
<rect x="1490.00" y="233.00" width="1.40" height="23.40" fill="#2E4BA0"/>
<rect x="1439.10" y="287.65" width="50.90" height="7.30" fill="#000"/>
<rect x="1438.90" y="279.60" width="1.40" height="23.40" fill="#2E4BA0"/>
<rect x="1445.10" y="279.60" width="1.00" height="23.40" fill="#A8B4DC"/>
<rect x="1451.45" y="279.60" width="1.30" height="23.40" fill="#5A8C46"/>
<rect x="1458.85" y="279.60" width="1.10" height="23.40" fill="#9DBB85"/>
<rect x="1464.85" y="279.60" width="1.10" height="23.40" fill="#9DBB85"/>
<rect x="1470.15" y="279.60" width="1.30" height="23.40" fill="#5A8C46"/>
<rect x="1472.45" y="279.60" width="1.10" height="23.40" fill="#9DBB85"/>
<rect x="1475.55" y="279.60" width="1.30" height="23.40" fill="#5A8C46"/>
<rect x="1488.90" y="279.60" width="1.40" height="23.40" fill="#2E4BA0"/>
<rect x="1440.00" y="333.75" width="50.00" height="7.30" fill="#000"/>
<rect x="1439.30" y="325.70" width="1.40" height="23.40" fill="#2E4BA0"/>
<rect x="1452.35" y="325.70" width="1.30" height="23.40" fill="#5A8C46"/>
<rect x="1453.95" y="325.70" width="1.10" height="23.40" fill="#9DBB85"/>
<rect x="1457.25" y="325.70" width="1.30" height="23.40" fill="#5A8C46"/>
<rect x="1463.85" y="325.70" width="1.10" height="23.40" fill="#9DBB85"/>
<rect x="1469.65" y="325.70" width="1.10" height="23.40" fill="#9DBB85"/>
<rect x="1477.25" y="325.70" width="1.30" height="23.40" fill="#5A8C46"/>
<rect x="1489.10" y="325.70" width="1.00" height="23.40" fill="#A8B4DC"/>
<rect x="1438.40" y="381.15" width="198.80" height="7.30" fill="#000"/>
<rect x="1437.70" y="373.10" width="1.40" height="23.40" fill="#2E4BA0"/>
<rect x="1442.95" y="373.10" width="1.10" height="23.40" fill="#9DBB85"/>
<rect x="1465.55" y="373.10" width="1.10" height="23.40" fill="#9DBB85"/>
<rect x="1475.35" y="373.10" width="1.30" height="23.40" fill="#5A8C46"/>
<rect x="1478.35" y="373.10" width="1.10" height="23.40" fill="#9DBB85"/>
<rect x="1493.85" y="373.10" width="1.30" height="23.40" fill="#5A8C46"/>
<rect x="1544.75" y="373.10" width="1.10" height="23.40" fill="#9DBB85"/>
<rect x="1566.25" y="373.10" width="1.30" height="23.40" fill="#5A8C46"/>
<rect x="1581.35" y="373.10" width="1.30" height="23.40" fill="#5A8C46"/>
<rect x="1635.30" y="373.10" width="3.00" height="23.40" fill="#307A3A"/>
<rect x="1438.40" y="427.75" width="189.80" height="7.30" fill="#000"/>
<rect x="1437.70" y="419.70" width="1.40" height="23.40" fill="#2E4BA0"/>
<rect x="1491.75" y="419.70" width="1.30" height="23.40" fill="#5A8C46"/>
<rect x="1516.95" y="419.70" width="1.30" height="23.40" fill="#5A8C46"/>
<rect x="1537.95" y="419.70" width="1.30" height="23.40" fill="#5A8C46"/>
<rect x="1575.25" y="419.70" width="1.30" height="23.40" fill="#5A8C46"/>
<rect x="1590.05" y="419.70" width="1.10" height="23.40" fill="#9DBB85"/>
<rect x="1593.95" y="419.70" width="1.30" height="23.40" fill="#5A8C46"/>
<rect x="1600.55" y="419.70" width="1.10" height="23.40" fill="#9DBB85"/>
<rect x="1622.65" y="419.70" width="1.10" height="23.40" fill="#9DBB85"/>
<rect x="1627.50" y="419.70" width="1.40" height="23.40" fill="#2E4BA0"/>
<rect x="1438.40" y="473.95" width="194.00" height="7.30" fill="#000"/>
<rect x="1437.70" y="465.90" width="1.40" height="23.40" fill="#2E4BA0"/>
<rect x="1442.95" y="465.90" width="1.10" height="23.40" fill="#9DBB85"/>
<rect x="1464.55" y="465.90" width="1.10" height="23.40" fill="#9DBB85"/>
<rect x="1471.35" y="465.90" width="1.30" height="23.40" fill="#5A8C46"/>
<rect x="1475.45" y="465.90" width="1.10" height="23.40" fill="#9DBB85"/>
<rect x="1489.65" y="465.90" width="1.30" height="23.40" fill="#5A8C46"/>
<rect x="1526.85" y="465.90" width="1.10" height="23.40" fill="#9DBB85"/>
<rect x="1552.15" y="465.90" width="1.30" height="23.40" fill="#5A8C46"/>
<rect x="1577.35" y="465.90" width="1.30" height="23.40" fill="#5A8C46"/>
<rect x="1631.90" y="465.90" width="1.00" height="23.40" fill="#A8B4DC"/>
<rect x="1438.40" y="520.15" width="299.20" height="7.30" fill="#000"/>
<rect x="1437.70" y="512.10" width="1.40" height="23.40" fill="#2E4BA0"/>
<rect x="1460.75" y="512.10" width="1.10" height="23.40" fill="#9DBB85"/>
<rect x="1465.55" y="512.10" width="1.10" height="23.40" fill="#9DBB85"/>
<rect x="1469.25" y="512.10" width="1.30" height="23.40" fill="#5A8C46"/>
<rect x="1483.05" y="512.10" width="1.10" height="23.40" fill="#9DBB85"/>
<rect x="1545.85" y="512.10" width="1.30" height="23.40" fill="#5A8C46"/>
<rect x="1620.35" y="512.10" width="1.10" height="23.40" fill="#9DBB85"/>
<rect x="1625.65" y="512.10" width="1.30" height="23.40" fill="#5A8C46"/>
<rect x="1674.85" y="512.10" width="1.30" height="23.40" fill="#5A8C46"/>
<rect x="1737.10" y="512.10" width="1.00" height="23.40" fill="#A8B4DC"/>
<rect x="1438.40" y="566.95" width="265.20" height="7.30" fill="#000"/>
<rect x="1437.70" y="558.90" width="1.40" height="23.40" fill="#2E4BA0"/>
<rect x="1491.35" y="558.90" width="1.30" height="23.40" fill="#5A8C46"/>
<rect x="1541.25" y="558.90" width="1.30" height="23.40" fill="#5A8C46"/>
<rect x="1547.05" y="558.90" width="1.10" height="23.40" fill="#9DBB85"/>
<rect x="1622.35" y="558.90" width="1.30" height="23.40" fill="#5A8C46"/>
<rect x="1649.25" y="558.90" width="1.10" height="23.40" fill="#9DBB85"/>
<rect x="1662.85" y="558.90" width="1.30" height="23.40" fill="#5A8C46"/>
<rect x="1667.45" y="558.90" width="1.30" height="23.40" fill="#5A8C46"/>
<rect x="1672.35" y="558.90" width="1.10" height="23.40" fill="#9DBB85"/>
<rect x="1702.90" y="558.90" width="1.40" height="23.40" fill="#2E4BA0"/>
<rect x="1438.40" y="613.55" width="266.00" height="7.30" fill="#000"/>
<rect x="1437.70" y="605.50" width="1.40" height="23.40" fill="#2E4BA0"/>
<rect x="1468.75" y="605.50" width="1.10" height="23.40" fill="#9DBB85"/>
<rect x="1473.95" y="605.50" width="1.10" height="23.40" fill="#9DBB85"/>
<rect x="1478.25" y="605.50" width="1.30" height="23.40" fill="#5A8C46"/>
<rect x="1491.35" y="605.50" width="1.30" height="23.40" fill="#5A8C46"/>
<rect x="1518.35" y="605.50" width="1.30" height="23.40" fill="#5A8C46"/>
<rect x="1595.75" y="605.50" width="1.10" height="23.40" fill="#9DBB85"/>
<rect x="1600.95" y="605.50" width="1.30" height="23.40" fill="#5A8C46"/>
<rect x="1650.25" y="605.50" width="1.30" height="23.40" fill="#5A8C46"/>
<rect x="1703.70" y="605.50" width="1.40" height="23.40" fill="#2E4BA0"/>
<rect x="1437.90" y="659.75" width="17.00" height="7.30" fill="#000"/>
<rect x="1437.40" y="651.70" width="1.00" height="23.40" fill="#A8B4DC"/>
<rect x="1439.35" y="651.70" width="1.10" height="23.40" fill="#9DBB85"/>
<rect x="1441.40" y="651.70" width="3.00" height="23.40" fill="#307A3A"/>
<rect x="1444.55" y="651.70" width="1.10" height="23.40" fill="#9DBB85"/>
<rect x="1447.45" y="651.70" width="1.30" height="23.40" fill="#5A8C46"/>
<rect x="1449.85" y="651.70" width="1.10" height="23.40" fill="#9DBB85"/>
<rect x="1451.95" y="651.70" width="1.30" height="23.40" fill="#5A8C46"/>
<rect x="1454.80" y="651.70" width="1.00" height="23.40" fill="#A8B4DC"/>
<rect x="1437.90" y="706.35" width="18.90" height="7.30" fill="#000"/>
<rect x="1438.25" y="698.30" width="1.10" height="23.40" fill="#9DBB85"/>
<rect x="1439.10" y="698.30" width="3.00" height="23.40" fill="#307A3A"/>
<rect x="1443.05" y="698.30" width="1.10" height="23.40" fill="#9DBB85"/>
<rect x="1444.55" y="698.30" width="1.10" height="23.40" fill="#9DBB85"/>
<rect x="1447.55" y="698.30" width="1.10" height="23.40" fill="#9DBB85"/>
<rect x="1449.30" y="698.30" width="3.00" height="23.40" fill="#307A3A"/>
<rect x="1452.05" y="698.30" width="1.10" height="23.40" fill="#9DBB85"/>
<rect x="1453.55" y="698.30" width="1.10" height="23.40" fill="#9DBB85"/>
<rect x="1456.30" y="698.30" width="1.00" height="23.40" fill="#A8B4DC"/>
<rect x="1437.90" y="752.95" width="17.00" height="7.30" fill="#000"/>
<rect x="1437.40" y="744.90" width="1.00" height="23.40" fill="#A8B4DC"/>
<rect x="1441.55" y="744.90" width="1.10" height="23.40" fill="#9DBB85"/>
<rect x="1442.95" y="744.90" width="1.30" height="23.40" fill="#5A8C46"/>
<rect x="1445.35" y="744.90" width="1.10" height="23.40" fill="#9DBB85"/>
<rect x="1447.45" y="744.90" width="1.30" height="23.40" fill="#5A8C46"/>
<rect x="1449.05" y="744.90" width="1.10" height="23.40" fill="#9DBB85"/>
<rect x="1451.25" y="744.90" width="1.30" height="23.40" fill="#5A8C46"/>
<rect x="1452.85" y="744.90" width="1.10" height="23.40" fill="#9DBB85"/>
<rect x="1454.80" y="744.90" width="1.00" height="23.40" fill="#A8B4DC"/>
<rect x="1437.90" y="798.85" width="33.50" height="7.30" fill="#000"/>
<rect x="1437.60" y="790.80" width="1.40" height="23.40" fill="#2E4BA0"/>
<rect x="1440.05" y="790.80" width="1.10" height="23.40" fill="#9DBB85"/>
<rect x="1442.25" y="790.80" width="1.30" height="23.40" fill="#5A8C46"/>
<rect x="1444.40" y="790.80" width="3.00" height="23.40" fill="#307A3A"/>
<rect x="1450.25" y="790.80" width="1.10" height="23.40" fill="#9DBB85"/>
<rect x="1464.15" y="790.80" width="1.10" height="23.40" fill="#9DBB85"/>
<rect x="1465.65" y="790.80" width="1.10" height="23.40" fill="#9DBB85"/>
<rect x="1470.50" y="790.80" width="1.00" height="23.40" fill="#A8B4DC"/>
<rect x="1437.90" y="845.15" width="32.80" height="7.30" fill="#000"/>
<rect x="1437.60" y="837.10" width="1.40" height="23.40" fill="#2E4BA0"/>
<rect x="1440.05" y="837.10" width="1.10" height="23.40" fill="#9DBB85"/>
<rect x="1443.05" y="837.10" width="1.10" height="23.40" fill="#9DBB85"/>
<rect x="1445.65" y="837.10" width="1.30" height="23.40" fill="#5A8C46"/>
<rect x="1450.55" y="837.10" width="1.10" height="23.40" fill="#9DBB85"/>
<rect x="1461.15" y="837.10" width="1.10" height="23.40" fill="#9DBB85"/>
<rect x="1463.25" y="837.10" width="1.30" height="23.40" fill="#5A8C46"/>
<rect x="1468.00" y="837.10" width="3.00" height="23.40" fill="#2E4BA0"/>
<rect x="1437.90" y="891.45" width="29.80" height="7.30" fill="#000"/>
<rect x="1437.60" y="883.40" width="1.40" height="23.40" fill="#2E4BA0"/>
<rect x="1440.05" y="883.40" width="1.10" height="23.40" fill="#9DBB85"/>
<rect x="1442.95" y="883.40" width="1.30" height="23.40" fill="#5A8C46"/>
<rect x="1445.95" y="883.40" width="1.30" height="23.40" fill="#5A8C46"/>
<rect x="1450.55" y="883.40" width="1.10" height="23.40" fill="#9DBB85"/>
<rect x="1461.15" y="883.40" width="1.10" height="23.40" fill="#9DBB85"/>
<rect x="1462.85" y="883.40" width="1.30" height="23.40" fill="#5A8C46"/>
<rect x="1467.50" y="883.40" width="1.00" height="23.40" fill="#A8B4DC"/>
<rect x="1438.40" y="941.55" width="218.80" height="7.30" fill="#000"/>
<rect x="1438.10" y="933.50" width="1.40" height="23.40" fill="#2E4BA0"/>
<rect x="1440.45" y="933.50" width="1.10" height="23.40" fill="#9DBB85"/>
<rect x="1444.45" y="933.50" width="1.30" height="23.40" fill="#5A8C46"/>
<rect x="1447.65" y="933.50" width="1.30" height="23.40" fill="#5A8C46"/>
<rect x="1451.85" y="933.50" width="1.30" height="23.40" fill="#5A8C46"/>
<rect x="1455.65" y="933.50" width="1.30" height="23.40" fill="#5A8C46"/>
<rect x="1460.25" y="933.50" width="1.30" height="23.40" fill="#5A8C46"/>
<rect x="1464.15" y="933.50" width="1.10" height="23.40" fill="#9DBB85"/>
<rect x="1465.55" y="933.50" width="1.10" height="23.40" fill="#9DBB85"/>
<rect x="1466.65" y="933.50" width="1.10" height="23.40" fill="#9DBB85"/>
<rect x="1499.85" y="933.50" width="1.10" height="23.40" fill="#9DBB85"/>
<rect x="1501.85" y="933.50" width="1.30" height="23.40" fill="#5A8C46"/>
<rect x="1503.75" y="933.50" width="1.10" height="23.40" fill="#9DBB85"/>
<rect x="1553.75" y="933.50" width="1.10" height="23.40" fill="#9DBB85"/>
<rect x="1559.05" y="933.50" width="1.10" height="23.40" fill="#9DBB85"/>
<rect x="1656.70" y="933.50" width="1.00" height="23.40" fill="#A8B4DC"/>
<rect x="1438.40" y="987.75" width="254.50" height="7.30" fill="#000"/>
<rect x="1437.90" y="979.70" width="1.00" height="23.40" fill="#A8B4DC"/>
<rect x="1472.55" y="979.70" width="1.10" height="23.40" fill="#9DBB85"/>
<rect x="1477.05" y="979.70" width="1.30" height="23.40" fill="#5A8C46"/>
<rect x="1480.25" y="979.70" width="1.10" height="23.40" fill="#9DBB85"/>
<rect x="1484.85" y="979.70" width="1.30" height="23.40" fill="#5A8C46"/>
<rect x="1489.25" y="979.70" width="1.30" height="23.40" fill="#5A8C46"/>
<rect x="1493.45" y="979.70" width="1.30" height="23.40" fill="#5A8C46"/>
<rect x="1497.65" y="979.70" width="1.30" height="23.40" fill="#5A8C46"/>
<rect x="1499.75" y="979.70" width="1.30" height="23.40" fill="#5A8C46"/>
<rect x="1538.95" y="979.70" width="1.30" height="23.40" fill="#5A8C46"/>
<rect x="1543.25" y="979.70" width="1.10" height="23.40" fill="#9DBB85"/>
<rect x="1591.95" y="979.70" width="1.10" height="23.40" fill="#9DBB85"/>
<rect x="1596.15" y="979.70" width="1.10" height="23.40" fill="#9DBB85"/>
<rect x="1608.60" y="979.70" width="1.40" height="23.40" fill="#2E4BA0"/>
<rect x="1692.20" y="979.70" width="1.40" height="23.40" fill="#2E4BA0"/>
<rect x="1438.40" y="1034.35" width="245.00" height="7.30" fill="#000"/>
<rect x="1437.70" y="1026.30" width="1.40" height="23.40" fill="#2E4BA0"/>
<rect x="1472.55" y="1026.30" width="1.10" height="23.40" fill="#9DBB85"/>
<rect x="1477.45" y="1026.30" width="1.30" height="23.40" fill="#5A8C46"/>
<rect x="1480.25" y="1026.30" width="1.10" height="23.40" fill="#9DBB85"/>
<rect x="1485.05" y="1026.30" width="1.30" height="23.40" fill="#5A8C46"/>
<rect x="1489.65" y="1026.30" width="1.30" height="23.40" fill="#5A8C46"/>
<rect x="1493.45" y="1026.30" width="1.30" height="23.40" fill="#5A8C46"/>
<rect x="1497.75" y="1026.30" width="1.10" height="23.40" fill="#9DBB85"/>
<rect x="1499.85" y="1026.30" width="1.10" height="23.40" fill="#9DBB85"/>
<rect x="1538.95" y="1026.30" width="1.30" height="23.40" fill="#5A8C46"/>
<rect x="1543.25" y="1026.30" width="1.10" height="23.40" fill="#9DBB85"/>
<rect x="1584.85" y="1026.30" width="1.10" height="23.40" fill="#9DBB85"/>
<rect x="1589.45" y="1026.30" width="1.10" height="23.40" fill="#9DBB85"/>
<rect x="1683.00" y="1026.30" width="3.00" height="23.40" fill="#2E4BA0"/>
<rect x="1438.40" y="1082.25" width="182.00" height="7.30" fill="#000"/>
<rect x="1438.10" y="1074.20" width="1.40" height="23.40" fill="#2E4BA0"/>
<rect x="1482.40" y="1074.20" width="1.00" height="23.40" fill="#A8B4DC"/>
<rect x="1485.85" y="1074.20" width="1.30" height="23.40" fill="#5A8C46"/>
<rect x="1495.95" y="1074.20" width="1.30" height="23.40" fill="#5A8C46"/>
<rect x="1515.40" y="1074.20" width="3.00" height="23.40" fill="#307A3A"/>
<rect x="1527.55" y="1074.20" width="1.10" height="23.40" fill="#9DBB85"/>
<rect x="1550.15" y="1074.20" width="1.10" height="23.40" fill="#9DBB85"/>
<rect x="1566.75" y="1074.20" width="1.10" height="23.40" fill="#9DBB85"/>
<rect x="1583.15" y="1074.20" width="1.10" height="23.40" fill="#9DBB85"/>
<rect x="1586.25" y="1074.20" width="1.30" height="23.40" fill="#5A8C46"/>
<rect x="1589.75" y="1074.20" width="1.30" height="23.40" fill="#5A8C46"/>
<rect x="1597.50" y="1074.20" width="1.00" height="23.40" fill="#A8B4DC"/>
<rect x="1619.70" y="1074.20" width="1.40" height="23.40" fill="#2E4BA0"/>
<rect x="1438.40" y="1128.35" width="139.00" height="7.30" fill="#000"/>
<rect x="1437.90" y="1120.30" width="1.00" height="23.40" fill="#A8B4DC"/>
<rect x="1441.45" y="1120.30" width="1.10" height="23.40" fill="#9DBB85"/>
<rect x="1445.05" y="1120.30" width="1.10" height="23.40" fill="#9DBB85"/>
<rect x="1463.95" y="1120.30" width="1.10" height="23.40" fill="#9DBB85"/>
<rect x="1480.25" y="1120.30" width="1.10" height="23.40" fill="#9DBB85"/>
<rect x="1502.35" y="1120.30" width="1.10" height="23.40" fill="#9DBB85"/>
<rect x="1512.30" y="1120.30" width="3.00" height="23.40" fill="#307A3A"/>
<rect x="1533.35" y="1120.30" width="1.30" height="23.40" fill="#5A8C46"/>
<rect x="1543.35" y="1120.30" width="1.30" height="23.40" fill="#5A8C46"/>
<rect x="1547.50" y="1120.30" width="1.00" height="23.40" fill="#A8B4DC"/>
<rect x="1576.70" y="1120.30" width="1.40" height="23.40" fill="#2E4BA0"/>
<rect x="1438.40" y="1174.55" width="148.00" height="7.30" fill="#000"/>
<rect x="1438.60" y="1166.50" width="1.40" height="23.40" fill="#2E4BA0"/>
<rect x="1468.20" y="1166.50" width="1.00" height="23.40" fill="#A8B4DC"/>
<rect x="1472.25" y="1166.50" width="1.30" height="23.40" fill="#5A8C46"/>
<rect x="1481.65" y="1166.50" width="1.30" height="23.40" fill="#5A8C46"/>
<rect x="1501.85" y="1166.50" width="1.30" height="23.40" fill="#5A8C46"/>
<rect x="1513.25" y="1166.50" width="1.10" height="23.40" fill="#9DBB85"/>
<rect x="1535.25" y="1166.50" width="1.10" height="23.40" fill="#9DBB85"/>
<rect x="1551.25" y="1166.50" width="1.10" height="23.40" fill="#9DBB85"/>
<rect x="1569.95" y="1166.50" width="1.10" height="23.40" fill="#9DBB85"/>
<rect x="1573.05" y="1166.50" width="1.10" height="23.40" fill="#9DBB85"/>
<rect x="1577.35" y="1166.50" width="1.30" height="23.40" fill="#5A8C46"/>
<rect x="1585.90" y="1166.50" width="1.00" height="23.40" fill="#A8B4DC"/>
<rect x="1439.90" y="1223.65" width="196.30" height="7.30" fill="#000"/>
<rect x="1439.00" y="1215.60" width="2.80" height="23.40" fill="#2E4BA0"/>
<rect x="1459.65" y="1215.60" width="1.30" height="23.40" fill="#5A8C46"/>
<rect x="1463.05" y="1215.60" width="1.10" height="23.40" fill="#9DBB85"/>
<rect x="1465.15" y="1215.60" width="1.10" height="23.40" fill="#9DBB85"/>
<rect x="1476.05" y="1215.60" width="1.10" height="23.40" fill="#9DBB85"/>
<rect x="1478.55" y="1215.60" width="1.30" height="23.40" fill="#5A8C46"/>
<rect x="1486.45" y="1215.60" width="1.30" height="23.40" fill="#5A8C46"/>
<rect x="1505.05" y="1215.60" width="1.10" height="23.40" fill="#9DBB85"/>
<rect x="1508.65" y="1215.60" width="1.10" height="23.40" fill="#9DBB85"/>
<rect x="1525.35" y="1215.60" width="1.30" height="23.40" fill="#5A8C46"/>
<rect x="1539.80" y="1215.60" width="3.00" height="23.40" fill="#307A3A"/>
<rect x="1574.65" y="1215.60" width="1.30" height="23.40" fill="#5A8C46"/>
<rect x="1593.65" y="1215.60" width="1.10" height="23.40" fill="#9DBB85"/>
<rect x="1599.85" y="1215.60" width="1.30" height="23.40" fill="#5A8C46"/>
<rect x="1605.15" y="1215.60" width="1.30" height="23.40" fill="#5A8C46"/>
<rect x="1635.70" y="1215.60" width="1.00" height="23.40" fill="#A8B4DC"/>
<rect x="1439.50" y="1269.85" width="201.90" height="7.30" fill="#000"/>
<rect x="1439.50" y="1261.80" width="4.20" height="23.40" fill="#2E4BA0"/>
<rect x="1466.55" y="1261.80" width="1.30" height="23.40" fill="#5A8C46"/>
<rect x="1470.25" y="1261.80" width="1.10" height="23.40" fill="#9DBB85"/>
<rect x="1472.35" y="1261.80" width="1.10" height="23.40" fill="#9DBB85"/>
<rect x="1482.85" y="1261.80" width="1.10" height="23.40" fill="#9DBB85"/>
<rect x="1485.45" y="1261.80" width="1.30" height="23.40" fill="#5A8C46"/>
<rect x="1492.75" y="1261.80" width="1.30" height="23.40" fill="#5A8C46"/>
<rect x="1510.05" y="1261.80" width="1.10" height="23.40" fill="#9DBB85"/>
<rect x="1514.95" y="1261.80" width="1.10" height="23.40" fill="#9DBB85"/>
<rect x="1531.25" y="1261.80" width="1.30" height="23.40" fill="#5A8C46"/>
<rect x="1546.75" y="1261.80" width="1.30" height="23.40" fill="#5A8C46"/>
<rect x="1581.05" y="1261.80" width="1.10" height="23.40" fill="#9DBB85"/>
<rect x="1599.85" y="1261.80" width="1.30" height="23.40" fill="#5A8C46"/>
<rect x="1606.25" y="1261.80" width="1.10" height="23.40" fill="#9DBB85"/>
<rect x="1611.45" y="1261.80" width="1.30" height="23.40" fill="#5A8C46"/>
<rect x="1640.75" y="1261.80" width="1.30" height="23.40" fill="#5A8C46"/>
<rect x="1438.80" y="1316.45" width="196.30" height="7.30" fill="#000"/>
<rect x="1438.30" y="1308.40" width="1.00" height="23.40" fill="#A8B4DC"/>
<rect x="1469.15" y="1308.40" width="1.10" height="23.40" fill="#9DBB85"/>
<rect x="1474.55" y="1308.40" width="1.30" height="23.40" fill="#5A8C46"/>
<rect x="1480.15" y="1308.40" width="1.30" height="23.40" fill="#5A8C46"/>
<rect x="1499.55" y="1308.40" width="1.10" height="23.40" fill="#9DBB85"/>
<rect x="1533.75" y="1308.40" width="1.30" height="23.40" fill="#5A8C46"/>
<rect x="1549.05" y="1308.40" width="1.30" height="23.40" fill="#5A8C46"/>
<rect x="1565.35" y="1308.40" width="1.10" height="23.40" fill="#9DBB85"/>
<rect x="1570.45" y="1308.40" width="1.30" height="23.40" fill="#5A8C46"/>
<rect x="1587.65" y="1308.40" width="1.30" height="23.40" fill="#5A8C46"/>
<rect x="1596.15" y="1308.40" width="1.10" height="23.40" fill="#9DBB85"/>
<rect x="1599.25" y="1308.40" width="1.30" height="23.40" fill="#5A8C46"/>
<rect x="1608.75" y="1308.40" width="1.10" height="23.40" fill="#9DBB85"/>
<rect x="1612.55" y="1308.40" width="1.10" height="23.40" fill="#9DBB85"/>
<rect x="1614.95" y="1308.40" width="1.30" height="23.40" fill="#5A8C46"/>
<rect x="1633.00" y="1308.40" width="3.80" height="23.40" fill="#2E4BA0"/>
<rect x="1438.40" y="1367.10" width="105.40" height="1.80" fill="#000"/>
<rect x="1437.70" y="1356.30" width="1.40" height="23.40" fill="#2E4BA0"/>
<rect x="1449.25" y="1356.30" width="1.10" height="23.40" fill="#9DBB85"/>
<rect x="1450.85" y="1356.30" width="1.10" height="23.40" fill="#9DBB85"/>
<rect x="1456.15" y="1356.30" width="1.10" height="23.40" fill="#9DBB85"/>
<rect x="1471.60" y="1356.30" width="3.00" height="23.40" fill="#307A3A"/>
<rect x="1478.65" y="1356.30" width="1.10" height="23.40" fill="#9DBB85"/>
<rect x="1481.35" y="1356.30" width="1.10" height="23.40" fill="#9DBB85"/>
<rect x="1483.05" y="1356.30" width="1.10" height="23.40" fill="#9DBB85"/>
<rect x="1484.45" y="1356.30" width="1.10" height="23.40" fill="#9DBB85"/>
<rect x="1485.85" y="1356.30" width="1.30" height="23.40" fill="#5A8C46"/>
<rect x="1487.55" y="1356.30" width="1.30" height="23.40" fill="#5A8C46"/>
<rect x="1506.85" y="1356.30" width="1.30" height="23.40" fill="#5A8C46"/>
<rect x="1518.35" y="1356.30" width="1.30" height="23.40" fill="#5A8C46"/>
<rect x="1533.75" y="1356.30" width="1.30" height="23.40" fill="#5A8C46"/>
<rect x="1543.10" y="1356.30" width="1.40" height="23.40" fill="#2E4BA0"/>
<rect x="1438.40" y="1410.95" width="103.30" height="7.30" fill="#000"/>
<rect x="1437.70" y="1402.90" width="1.40" height="23.40" fill="#2E4BA0"/>
<rect x="1447.35" y="1402.90" width="1.10" height="23.40" fill="#9DBB85"/>
<rect x="1449.45" y="1402.90" width="1.10" height="23.40" fill="#9DBB85"/>
<rect x="1455.05" y="1402.90" width="1.10" height="23.40" fill="#9DBB85"/>
<rect x="1469.90" y="1402.90" width="3.00" height="23.40" fill="#307A3A"/>
<rect x="1477.15" y="1402.90" width="1.10" height="23.40" fill="#9DBB85"/>
<rect x="1479.25" y="1402.90" width="1.10" height="23.40" fill="#9DBB85"/>
<rect x="1481.35" y="1402.90" width="1.10" height="23.40" fill="#9DBB85"/>
<rect x="1483.45" y="1402.90" width="1.10" height="23.40" fill="#9DBB85"/>
<rect x="1485.45" y="1402.90" width="1.30" height="23.40" fill="#5A8C46"/>
<rect x="1486.95" y="1402.90" width="1.10" height="23.40" fill="#9DBB85"/>
<rect x="1504.95" y="1402.90" width="1.30" height="23.40" fill="#5A8C46"/>
<rect x="1516.55" y="1402.90" width="1.30" height="23.40" fill="#5A8C46"/>
<rect x="1532.80" y="1402.90" width="1.00" height="23.40" fill="#A8B4DC"/>
<rect x="1541.00" y="1402.90" width="1.40" height="23.40" fill="#2E4BA0"/>
<rect x="1438.40" y="1457.35" width="102.90" height="7.30" fill="#000"/>
<rect x="1437.70" y="1449.30" width="1.40" height="23.40" fill="#2E4BA0"/>
<rect x="1447.35" y="1449.30" width="1.10" height="23.40" fill="#9DBB85"/>
<rect x="1449.45" y="1449.30" width="1.10" height="23.40" fill="#9DBB85"/>
<rect x="1454.65" y="1449.30" width="1.10" height="23.40" fill="#9DBB85"/>
<rect x="1469.50" y="1449.30" width="3.00" height="23.40" fill="#307A3A"/>
<rect x="1476.05" y="1449.30" width="1.10" height="23.40" fill="#9DBB85"/>
<rect x="1478.65" y="1449.30" width="1.10" height="23.40" fill="#9DBB85"/>
<rect x="1480.75" y="1449.30" width="1.10" height="23.40" fill="#9DBB85"/>
<rect x="1482.85" y="1449.30" width="1.10" height="23.40" fill="#9DBB85"/>
<rect x="1484.35" y="1449.30" width="1.30" height="23.40" fill="#5A8C46"/>
<rect x="1486.55" y="1449.30" width="1.10" height="23.40" fill="#9DBB85"/>
<rect x="1504.75" y="1449.30" width="1.30" height="23.40" fill="#5A8C46"/>
<rect x="1516.25" y="1449.30" width="1.30" height="23.40" fill="#5A8C46"/>
<rect x="1531.80" y="1449.30" width="1.00" height="23.40" fill="#A8B4DC"/>
<rect x="1540.60" y="1449.30" width="1.40" height="23.40" fill="#2E4BA0"/>
<rect x="1438.40" y="1503.25" width="115.90" height="7.30" fill="#000"/>
<rect x="1437.90" y="1495.20" width="1.00" height="23.40" fill="#A8B4DC"/>
<rect x="1438.85" y="1495.20" width="1.30" height="23.40" fill="#5A8C46"/>
<rect x="1441.05" y="1495.20" width="1.10" height="23.40" fill="#9DBB85"/>
<rect x="1443.95" y="1495.20" width="1.10" height="23.40" fill="#9DBB85"/>
<rect x="1448.75" y="1495.20" width="1.10" height="23.40" fill="#9DBB85"/>
<rect x="1472.95" y="1495.20" width="1.10" height="23.40" fill="#9DBB85"/>
<rect x="1474.55" y="1495.20" width="1.30" height="23.40" fill="#5A8C46"/>
<rect x="1476.05" y="1495.20" width="1.10" height="23.40" fill="#9DBB85"/>
<rect x="1479.15" y="1495.20" width="1.30" height="23.40" fill="#5A8C46"/>
<rect x="1480.25" y="1495.20" width="1.10" height="23.40" fill="#9DBB85"/>
<rect x="1482.35" y="1495.20" width="1.10" height="23.40" fill="#9DBB85"/>
<rect x="1484.45" y="1495.20" width="1.10" height="23.40" fill="#9DBB85"/>
<rect x="1553.80" y="1495.20" width="1.00" height="23.40" fill="#A8B4DC"/>
<rect x="1438.40" y="1549.85" width="118.00" height="7.30" fill="#000"/>
<rect x="1437.90" y="1541.80" width="1.00" height="23.40" fill="#A8B4DC"/>
<rect x="1438.85" y="1541.80" width="1.30" height="23.40" fill="#5A8C46"/>
<rect x="1441.05" y="1541.80" width="1.10" height="23.40" fill="#9DBB85"/>
<rect x="1443.95" y="1541.80" width="1.10" height="23.40" fill="#9DBB85"/>
<rect x="1448.75" y="1541.80" width="1.10" height="23.40" fill="#9DBB85"/>
<rect x="1472.95" y="1541.80" width="1.10" height="23.40" fill="#9DBB85"/>
<rect x="1474.55" y="1541.80" width="1.30" height="23.40" fill="#5A8C46"/>
<rect x="1476.05" y="1541.80" width="1.10" height="23.40" fill="#9DBB85"/>
<rect x="1479.15" y="1541.80" width="1.30" height="23.40" fill="#5A8C46"/>
<rect x="1480.25" y="1541.80" width="1.10" height="23.40" fill="#9DBB85"/>
<rect x="1482.35" y="1541.80" width="1.10" height="23.40" fill="#9DBB85"/>
<rect x="1484.35" y="1541.80" width="1.30" height="23.40" fill="#5A8C46"/>
<rect x="1555.70" y="1541.80" width="1.40" height="23.40" fill="#2E4BA0"/>
<rect x="1438.40" y="1596.05" width="117.40" height="7.30" fill="#000"/>
<rect x="1437.90" y="1588.00" width="1.00" height="23.40" fill="#A8B4DC"/>
<rect x="1438.85" y="1588.00" width="1.30" height="23.40" fill="#5A8C46"/>
<rect x="1441.05" y="1588.00" width="1.10" height="23.40" fill="#9DBB85"/>
<rect x="1443.95" y="1588.00" width="1.10" height="23.40" fill="#9DBB85"/>
<rect x="1448.75" y="1588.00" width="1.10" height="23.40" fill="#9DBB85"/>
<rect x="1472.95" y="1588.00" width="1.10" height="23.40" fill="#9DBB85"/>
<rect x="1474.55" y="1588.00" width="1.30" height="23.40" fill="#5A8C46"/>
<rect x="1476.05" y="1588.00" width="1.10" height="23.40" fill="#9DBB85"/>
<rect x="1479.15" y="1588.00" width="1.30" height="23.40" fill="#5A8C46"/>
<rect x="1480.25" y="1588.00" width="1.10" height="23.40" fill="#9DBB85"/>
<rect x="1482.35" y="1588.00" width="1.10" height="23.40" fill="#9DBB85"/>
<rect x="1484.35" y="1588.00" width="1.30" height="23.40" fill="#5A8C46"/>
<rect x="1555.30" y="1588.00" width="1.00" height="23.40" fill="#A8B4DC"/>
<rect x="1438.40" y="1645.35" width="164.20" height="7.30" fill="#000"/>
<rect x="1437.90" y="1637.30" width="1.00" height="23.40" fill="#A8B4DC"/>
<rect x="1462.10" y="1637.30" width="3.00" height="23.40" fill="#307A3A"/>
<rect x="1469.35" y="1637.30" width="1.10" height="23.40" fill="#9DBB85"/>
<rect x="1478.75" y="1637.30" width="1.30" height="23.40" fill="#5A8C46"/>
<rect x="1482.85" y="1637.30" width="1.10" height="23.40" fill="#9DBB85"/>
<rect x="1497.25" y="1637.30" width="1.10" height="23.40" fill="#9DBB85"/>
<rect x="1564.85" y="1637.30" width="1.10" height="23.40" fill="#9DBB85"/>
<rect x="1591.55" y="1637.30" width="1.10" height="23.40" fill="#9DBB85"/>
<rect x="1592.65" y="1637.30" width="1.10" height="23.40" fill="#9DBB85"/>
<rect x="1601.90" y="1637.30" width="1.40" height="23.40" fill="#2E4BA0"/>
<rect x="1438.40" y="1691.95" width="163.80" height="7.30" fill="#000"/>
<rect x="1437.90" y="1683.90" width="1.00" height="23.40" fill="#A8B4DC"/>
<rect x="1462.10" y="1683.90" width="1.00" height="23.40" fill="#A8B4DC"/>
<rect x="1468.75" y="1683.90" width="1.10" height="23.40" fill="#9DBB85"/>
<rect x="1478.75" y="1683.90" width="1.30" height="23.40" fill="#5A8C46"/>
<rect x="1482.25" y="1683.90" width="1.30" height="23.40" fill="#5A8C46"/>
<rect x="1496.05" y="1683.90" width="1.10" height="23.40" fill="#9DBB85"/>
<rect x="1564.65" y="1683.90" width="1.10" height="23.40" fill="#9DBB85"/>
<rect x="1590.95" y="1683.90" width="1.10" height="23.40" fill="#9DBB85"/>
<rect x="1592.15" y="1683.90" width="1.10" height="23.40" fill="#9DBB85"/>
<rect x="1601.50" y="1683.90" width="1.40" height="23.40" fill="#2E4BA0"/>
<rect x="1438.40" y="1738.15" width="161.10" height="7.30" fill="#000"/>
<rect x="1437.90" y="1730.10" width="1.00" height="23.40" fill="#A8B4DC"/>
<rect x="1462.10" y="1730.10" width="1.00" height="23.40" fill="#A8B4DC"/>
<rect x="1468.75" y="1730.10" width="1.10" height="23.40" fill="#9DBB85"/>
<rect x="1478.75" y="1730.10" width="1.30" height="23.40" fill="#5A8C46"/>
<rect x="1482.25" y="1730.10" width="1.30" height="23.40" fill="#5A8C46"/>
<rect x="1496.05" y="1730.10" width="1.10" height="23.40" fill="#9DBB85"/>
<rect x="1562.15" y="1730.10" width="1.10" height="23.40" fill="#9DBB85"/>
<rect x="1574.80" y="1730.10" width="1.00" height="23.40" fill="#A8B4DC"/>
<rect x="1586.35" y="1730.10" width="1.10" height="23.40" fill="#9DBB85"/>
<rect x="1587.95" y="1730.10" width="1.10" height="23.40" fill="#9DBB85"/>
<rect x="1589.45" y="1730.10" width="1.10" height="23.40" fill="#9DBB85"/>
<rect x="1599.20" y="1730.10" width="1.40" height="23.40" fill="#2E4BA0"/>
<rect x="1558.30" y="727.20" width="32.70" height="33.80" fill="#2F4A9A" rx="4.5"/>
<rect x="1558.30" y="772.80" width="32.70" height="33.80" fill="#4A7D41" rx="4.5"/>
<text x="1602.46" y="750.20" font-family='"Liberation Serif", "Times New Roman", serif' font-size="29.6" font-weight="bold" fill="#000" textLength="54.68" lengthAdjust="spacing">UTR</text>
<text x="1601.35" y="795.80" font-family='"Liberation Serif", "Times New Roman", serif' font-size="29.6" font-weight="bold" fill="#000" textLength="54.60" lengthAdjust="spacing">CDS</text>
<rect x="1439.10" y="1816.50" width="302.30" height="7.10" fill="#231F20"/>
<rect x="1439.10" y="1804.20" width="7.00" height="13.80" fill="#231F20"/>
<rect x="1475.75" y="1804.20" width="7.00" height="13.80" fill="#231F20"/>
<rect x="1512.40" y="1804.20" width="7.00" height="13.80" fill="#231F20"/>
<rect x="1549.05" y="1804.20" width="7.00" height="13.80" fill="#231F20"/>
<rect x="1585.70" y="1804.20" width="7.00" height="13.80" fill="#231F20"/>
<rect x="1622.35" y="1804.20" width="7.00" height="13.80" fill="#231F20"/>
<rect x="1659.00" y="1804.20" width="7.00" height="13.80" fill="#231F20"/>
<rect x="1695.65" y="1804.20" width="7.00" height="13.80" fill="#231F20"/>
<rect x="1732.30" y="1804.20" width="7.00" height="13.80" fill="#231F20"/>
<text x="1427.43" y="1849.50" font-family='"Liberation Serif", "Times New Roman", serif' font-size="25.5" fill="#231F20" textLength="34.64" lengthAdjust="spacing">0kb</text>
<text x="1489.58" y="1849.50" font-family='"Liberation Serif", "Times New Roman", serif' font-size="25.5" fill="#231F20" textLength="46.89" lengthAdjust="spacing">20kb</text>
<text x="1565.20" y="1849.50" font-family='"Liberation Serif", "Times New Roman", serif' font-size="25.5" fill="#231F20" textLength="46.07" lengthAdjust="spacing">40kb</text>
<text x="1638.50" y="1849.50" font-family='"Liberation Serif", "Times New Roman", serif' font-size="25.5" fill="#231F20" textLength="46.67" lengthAdjust="spacing">60kb</text>
<text x="1712.33" y="1849.50" font-family='"Liberation Serif", "Times New Roman", serif' font-size="25.5" fill="#231F20" textLength="46.14" lengthAdjust="spacing">80kb</text>
<text x="1407.37" y="1826.80" font-family='"Liberation Serif", "Times New Roman", serif' font-size="35.0" fill="#231F20" textLength="28.36" lengthAdjust="spacing">5′</text>
<text x="1742.93" y="1826.80" font-family='"Liberation Serif", "Times New Roman", serif' font-size="35.0" fill="#231F20" textLength="26.80" lengthAdjust="spacing">3′</text>
</svg>
</body></html>
